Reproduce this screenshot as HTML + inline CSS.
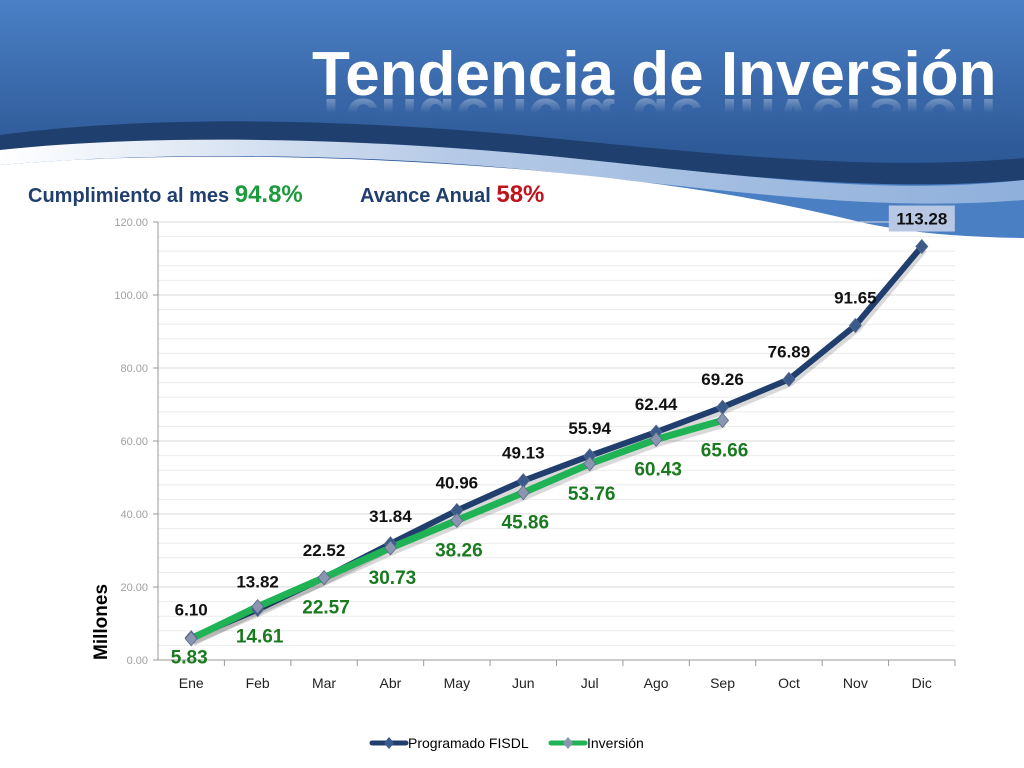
<!DOCTYPE html>
<html><head><meta charset="utf-8"><style>
body{margin:0;width:1024px;height:768px;overflow:hidden;background:#fff;font-family:"Liberation Sans",sans-serif;}
svg{display:block}
</style></head><body>
<svg id="chart" width="1024" height="768" viewBox="0 0 1024 768">
<defs>
<linearGradient id="hdr" x1="0" y1="0" x2="0" y2="1">
<stop offset="0" stop-color="#4a80c6"/><stop offset="0.6" stop-color="#2f5a98"/><stop offset="1" stop-color="#2b5592"/>
</linearGradient>
<linearGradient id="refl" x1="0" y1="0" x2="0" y2="1">
<stop offset="0" stop-color="#fff" stop-opacity="0"/><stop offset="0.6" stop-color="#fff" stop-opacity="0"/><stop offset="1" stop-color="#fff" stop-opacity="0.6"/>
</linearGradient>
<linearGradient id="band" x1="0" y1="0" x2="1" y2="0">
<stop offset="0" stop-color="#fff"/><stop offset="0.45" stop-color="#b4c9e6"/><stop offset="1" stop-color="#8fb0dc"/>
</linearGradient>
</defs>
<g>
<rect x="0" y="0" width="1024" height="245" fill="url(#hdr)"/>
<rect x="600" y="170" width="424" height="75" fill="#4a7fc4"/>
<path d="M0 135C150 115 350 118 550 138C750 158 880 170 1024 158V180C880 192 750 178 550 156C350 136 150 136 0 150Z" fill="#1f3f6e"/>
<path d="M0 150C150 134 350 137 550 156C750 176 880 196 1024 180V200C880 212 740 192 550 172C360 152 150 152 0 165Z" fill="url(#band)"/>
<path d="M0 165C150 152 360 154 550 172C700 186 790 205 860 222C910 233 960 237 1024 238V768H0Z" fill="#fff"/>
</g>
<text x="312" y="95" font-size="62" font-weight="bold" fill="#fff">Tendencia de Inversión</text>
<text x="312" y="95" font-size="62" font-weight="bold" fill="url(#refl)" transform="translate(0,192) scale(1,-1) translate(0,-2)">Tendencia de Inversión</text>
<text x="28" y="202" font-size="20" font-weight="bold" fill="#213f6e">Cumplimiento al mes <tspan fill="#1e9a3e" font-size="24">94.8%</tspan></text>
<text x="360" y="202" font-size="20" font-weight="bold" fill="#213f6e">Avance Anual <tspan fill="#c0141c" font-size="24">58%</tspan></text>
<g id="grid"></g>
<g id="axes"></g>
<g id="series"></g>
<text transform="translate(107,660) rotate(-90)" font-size="19" font-weight="bold" fill="#000">Millones</text>
<g>
<g>
<line x1="372" y1="743" x2="406" y2="743" stroke="#213f6e" stroke-width="5" stroke-linecap="round"/>
<path d="M389 737L394 743L389 749L384 743Z" fill="#3a5a8c"/>
<text x="408" y="748" font-size="14" fill="#000">Programado FISDL</text></g>
<g>
<line x1="551" y1="743" x2="585" y2="743" stroke="#1fb356" stroke-width="5" stroke-linecap="round"/>
<path d="M568 737L573 743L568 749L563 743Z" fill="#8a95b0"/>
<text x="587" y="748" font-size="14" fill="#000">Inversión</text></g>
</g>
</svg>
<script>
const categories=["Ene","Feb","Mar","Abr","May","Jun","Jul","Ago","Sep","Oct","Nov","Dic"];
const programado=[6.10,13.82,22.52,31.84,40.96,49.13,55.94,62.44,69.26,76.89,91.65,113.28];
const inversion=[5.83,14.61,22.57,30.73,38.26,45.86,53.76,60.43,65.66];
const yTicks=[0,20,40,60,80,100,120];
const NS="http://www.w3.org/2000/svg";
const X0=158,X1=955,Y0=660,Y1=222,YMAX=120;
const step=(X1-X0)/categories.length;
const xs=i=>X0+step*(i+0.5);
const ys=v=>Y0-(v/YMAX)*(Y0-Y1);
function mk(tag,attrs,parent,txt){const e=document.createElementNS(NS,tag);for(const k in attrs)e.setAttribute(k,attrs[k]);if(txt!==undefined)e.textContent=txt;parent.appendChild(e);return e;}
const grid=document.getElementById('grid'),axes=document.getElementById('axes'),ser=document.getElementById('series');
for(let v=4;v<=YMAX;v+=4){const l=mk('line',{x1:X0,x2:X1,y1:ys(v),y2:ys(v),stroke:(v%20===0)?'#d8d8d8':'#ececec','stroke-width':1},grid);

}
yTicks.forEach(t=>{const tx=mk('text',{x:X0-10,y:ys(t)+4,'font-size':11,fill:'#a0a0a0','text-anchor':'end'},axes,t.toFixed(2));


mk('line',{x1:X0-5,x2:X0,y1:ys(t),y2:ys(t),stroke:'#999'},axes);});
mk('line',{x1:X0,x2:X0,y1:Y1,y2:Y0,stroke:'#999'},axes);
mk('line',{x1:X0,x2:X1,y1:Y0,y2:Y0,stroke:'#999'},axes);
categories.forEach((c,i)=>{mk('line',{x1:X0+step*(i+1),x2:X0+step*(i+1),y1:Y0,y2:Y0+6,stroke:'#999'},axes);
const t=mk('text',{x:xs(i),y:Y0+28,'font-size':14,fill:'#222','text-anchor':'middle'},axes,c);

});
function line(vals,color,w,name){const pts=vals.map((v,i)=>xs(i)+','+ys(v)).join(' ');
mk('polyline',{points:pts,fill:'none',stroke:'rgba(0,0,0,0.15)','stroke-width':w+4,'stroke-linejoin':'round',transform:'translate(1,2)'},ser);
const p=mk('polyline',{points:pts,fill:'none',stroke:color,'stroke-width':w,'stroke-linejoin':'round','stroke-linecap':'round'},ser);

}
function markers(vals,fill,name){vals.forEach((v,i)=>{const x=xs(i),y=ys(v);
const m=mk('path',{d:`M${x} ${y-7}L${x+6} ${y}L${x} ${y+7}L${x-6} ${y}Z`,fill:fill,stroke:'#5a6a8a','stroke-width':0.8},ser);

});}
line(programado,'#213f6e',6,'programado-line');
line(inversion,'#1fb356',7,'inversion-line');
markers(programado,'#3a5a8c','programado-marker');
markers(inversion,'#8a95b0','inversion-marker');
programado.forEach((v,i)=>{const x=xs(i),y=ys(v)-14;
if(i===programado.length-1){const b=mk('rect',{x:x-33,y:y-27,width:66,height:26,fill:'#b8c8e4'},ser);}
const t=mk('text',{x:x,y:y-8,'font-size':17,'font-weight':'bold',fill:'#111','text-anchor':'middle'},ser,v.toFixed(2));

});
inversion.forEach((v,i)=>{const x=xs(i)+(i===0?-2:2),y=ys(v)+(i===0?25:36);
const t=mk('text',{x:x,y:y,'font-size':19,'font-weight':'bold',fill:'#1a7a1f','text-anchor':'middle'},ser,v.toFixed(2));

});
</script>
</body></html>
